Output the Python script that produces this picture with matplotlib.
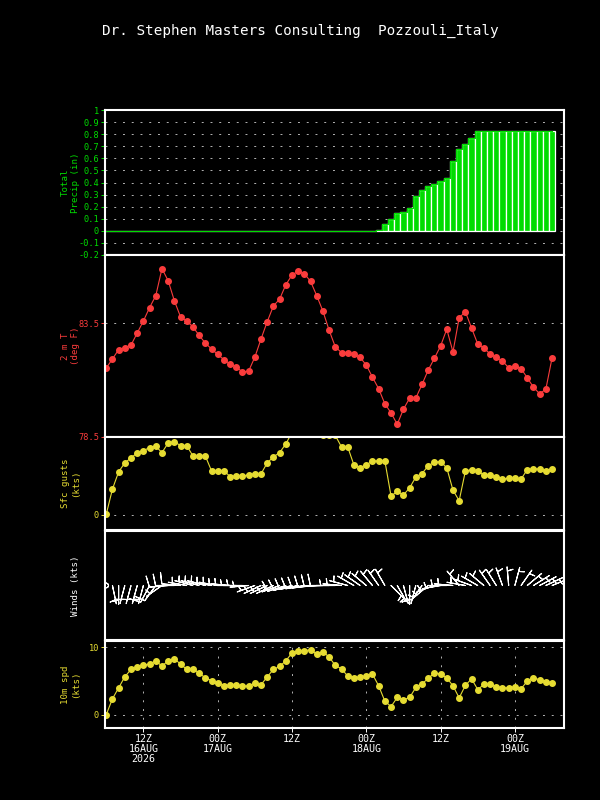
import numpy as np
import matplotlib
matplotlib.use("Agg")
import matplotlib.pyplot as plt

# hourly meteogram, 06Z 16AUG 2026 -> 06Z 19AUG 2026
hours = np.arange(73)

precip_in = [0.0] * 44 + [0.01, 0.055, 0.10, 0.15, 0.16, 0.19, 0.285, 0.34, 0.37, 0.39,
                          0.41, 0.44, 0.58, 0.68, 0.72, 0.765] + [0.83] * 13

temp_f = [81.53, 81.93, 82.34, 82.43, 82.54, 83.07, 83.60, 84.19, 84.71, 85.90,
          85.37, 84.49, 83.78, 83.60, 83.34, 82.97, 82.63, 82.37, 82.13, 81.90,
          81.71, 81.59, 81.35, 81.40, 82.01, 82.81, 83.57, 84.26, 84.56, 85.19,
          85.62, 85.79, 85.68, 85.34, 84.71, 84.03, 83.19, 82.46, 82.21, 82.19,
          82.15, 82.00, 81.66, 81.13, 80.62, 79.96, 79.56, 79.06, 79.72, 80.21,
          80.21, 80.81, 81.44, 81.96, 82.50, 83.24, 82.24, 83.74, 84.01, 83.29,
          82.59, 82.41, 82.15, 82.00, 81.84, 81.54, 81.62, 81.51, 81.10, 80.69,
          80.40, 80.60, 81.97]

gust_kts = [0.1, 3.45, 5.75, 6.95, 7.61, 8.28, 8.59, 8.98, 9.16, 8.32,
            9.60, 9.78, 9.25, 9.25, 7.88, 7.88, 7.88, 5.89, 5.89, 5.89,
            5.13, 5.18, 5.18, 5.36, 5.49, 5.49, 6.95, 7.75, 8.32, 9.47,
            11.0, 11.8, 12.0, 11.8, 11.2, 10.6, 10.6, 10.6, 9.07, 9.07,
            6.68, 6.33, 6.68, 7.21, 7.21, 7.21, 2.52, 3.14, 2.66, 3.63,
            5.05, 5.53, 6.55, 7.04, 7.13, 6.28, 3.32, 1.90, 5.84, 6.06,
            5.89, 5.31, 5.36, 5.09, 4.82, 4.87, 4.91, 4.78, 6.06, 6.15,
            6.15, 5.89, 6.15]

spd_kts = [0.0, 2.34, 3.98, 5.62, 6.72, 7.01, 7.36, 7.51, 8.01, 7.21,
           8.01, 8.31, 7.51, 6.72, 6.82, 6.17, 5.47, 5.07, 4.73, 4.28,
           4.43, 4.43, 4.23, 4.28, 4.63, 4.43, 5.62, 6.72, 7.16, 8.01,
           9.15, 9.50, 9.50, 9.65, 9.00, 9.35, 8.56, 7.31, 6.82, 5.72,
           5.42, 5.57, 5.67, 6.02, 4.28, 1.99, 1.19, 2.54, 2.19, 2.54,
           4.03, 4.58, 5.37, 6.22, 6.02, 5.47, 4.28, 2.49, 4.33, 5.32,
           3.73, 4.48, 4.53, 4.13, 3.98, 3.98, 4.08, 3.83, 4.98, 5.47,
           5.17, 4.88, 4.73]

# wind barbs: direction the wind comes from (deg) and barb speed (kts)
wind_dir = [0, 168, 180, 195, 195, 195, 195, 208, 216, 235,
            265, 270, 275, 280, 285, 285, 285, 280, 280, 275,
            275, 270, 270, 265, 250, 245, 245, 245, 250, 252,
            255, 258, 260, 262, 265, 268, 270, 270, 275, 285,
            300, 305, 310, 320, 325, 330, 135, 150, 165, 180,
            195, 215, 230, 250, 260, 270, 275, 320, 280, 290,
            300, 310, 325, 328, 340, 355, 15, 35, 50, 58,
            62, 65, 68]
barb_kts = [0, 3, 4, 5.6, 6.7, 7, 7.4, 7.5, 8, 7.2,
            8, 8.3, 7.5, 6.7, 6.8, 6.2, 5.5, 5.1, 4.7, 4.3,
            4.4, 4.4, 4.2, 4.3, 4.6, 4.4, 5.6, 6.7, 7.2, 8,
            9.2, 9.5, 9.5, 9.7, 9, 9.4, 8.6, 7.3, 6.8, 5.7,
            5.4, 5.6, 5.7, 6, 4.3, 3, 3, 3, 3, 3,
            4, 4.6, 5.4, 6.2, 6, 5.5, 4.3, 3, 4.3, 5.3,
            3.7, 4.5, 4.5, 4.1, 4, 4, 4.1, 3.8, 5, 5.5,
            5.2, 4.9, 4.7]

tick_hours = [6, 18, 30, 42, 54, 66]
tick_labels = ["12Z\n16AUG\n2026", "00Z\n17AUG", "12Z", "00Z\n18AUG", "12Z", "00Z\n19AUG"]

title = "Dr. Stephen Masters Consulting  Pozzouli_Italy"

GREEN = "#00dc00"
RED = "#fa3c3c"
YELLOW = "#e6dc32"
GRID = "#b4b4b4"

plt.rcParams['font.family'] = ['DejaVu Sans Mono', 'DejaVu Sans']

fig = plt.figure(figsize=(6, 8), dpi=100, facecolor="black")

L = 104.7 / 600
W = (564.1 - 104.7) / 600


def panel(top_px, bottom_px):
    ax = fig.add_axes([L, 1 - bottom_px / 800, W, (bottom_px - top_px) / 800])
    ax.set_facecolor("black")
    for s in ax.spines.values():
        s.set_color("white")
        s.set_linewidth(1.5)
    ax.set_xlim(-0.25, 73.95)
    ax.set_xticks([])
    ax.set_axisbelow(True)
    return ax


def ylab(ax, text, color):
    pos = ax.get_position()
    fig.text(80 / 600, (pos.y0 + pos.y1) / 2, text, rotation=90, ha="right", va="center",
             multialignment="center", color=color, fontsize=6.6, linespacing=1.1)


def yaxis(ax, ticks, labels, color):
    ax.set_yticks(ticks)
    ax.set_yticklabels(labels)
    ax.tick_params(axis="y", colors=color, labelsize=6.2, length=3, width=0.7, pad=1)
    ax.grid(axis="y", color=GRID, linestyle=(0, (2, 7)), linewidth=0.7)


# precip
ax1 = panel(110, 255)
ax1.set_ylim(-0.2, 1.0)
p_ticks = np.round(np.arange(-0.2, 1.01, 0.1), 1)
yaxis(ax1, p_ticks, ["%g" % t for t in p_ticks], GREEN)
ax1.bar(hours, precip_in, width=1.0, color=GREEN, edgecolor="white", linewidth=0.9)
ax1.plot(hours, precip_in, drawstyle="steps-mid", color=GREEN, linewidth=0.8)
ylab(ax1, "Total\nPrecip (in)", GREEN)

# 2 m temperature
ax2 = panel(255, 437)
ax2.set_ylim(78.5, 86.5)
yaxis(ax2, [78.5, 83.5], ["78.5", "83.5"], RED)
ax2.plot(hours, temp_f, color=RED, linewidth=0.8, marker="o", markersize=4)
ylab(ax2, "2 m T\n(deg F)", RED)

# gusts
ax3 = panel(437, 530)
ax3.set_ylim(-2.0, 10.4)
yaxis(ax3, [0], ["0"], YELLOW)
ax3.plot(hours, gust_kts, color=YELLOW, linewidth=0.8, marker="o", markersize=4)
ylab(ax3, "Sfc gusts\n(kts)", YELLOW)

# wind barbs
ax4 = panel(531, 640)
ax4.set_ylim(-1, 1)
ax4.set_yticks([])
rad = np.deg2rad(wind_dir)
u = -np.array(barb_kts) * np.sin(rad)
v = -np.array(barb_kts) * np.cos(rad)
ax4.barbs(hours, np.zeros(len(hours)), u, v, length=5.2, color="white", linewidth=0.8,
          sizes=dict(emptybarb=0.12, height=0.6, spacing=0.15))
ylab(ax4, "Winds (kts)", "white")

# 10 m speed
ax5 = panel(641, 728)
ax5.set_ylim(-2.0, 10.95)
yaxis(ax5, [0, 10], ["0", "10"], YELLOW)
ax5.plot(hours, spd_kts, color=YELLOW, linewidth=0.8, marker="o", markersize=4)
ax5.set_xticks(tick_hours)
ax5.set_xticklabels(tick_labels, linespacing=1.05)
ax5.tick_params(axis="x", colors="white", labelsize=7.2, length=3, width=0.7, pad=1)
ax5.grid(axis="x", color=GRID, linestyle=(0, (2, 7)), linewidth=0.7)
ylab(ax5, "10m spd\n(kts)", YELLOW)

fig.text(0.5, 1 - 31 / 800, title, ha="center", va="center", color="white", fontsize=10.3)

fig.savefig("out.png", dpi=100, facecolor="black")
